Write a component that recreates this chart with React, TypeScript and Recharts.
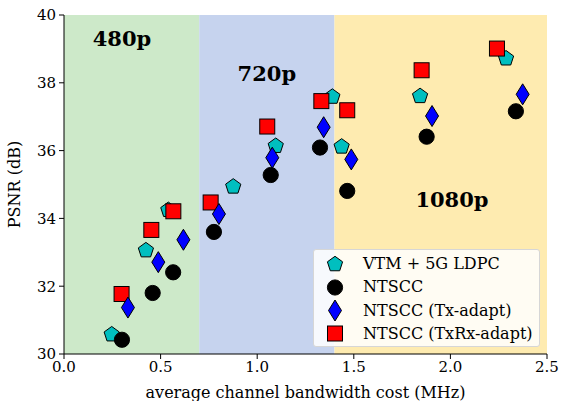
import React from "react";
import {
  ScatterChart, Scatter, XAxis, YAxis, ReferenceArea, ReferenceDot,
} from "recharts";

// bandwidth cost (MHz) / PSNR (dB) per scheme
const vtmX = [0.247, 0.424, 0.54, 0.876, 1.096, 1.389, 1.437, 1.843, 2.288];
const vtmY = [30.6, 33.08, 34.27, 34.96, 36.16, 37.61, 36.14, 37.63, 38.74];

const ntsccX = [0.3, 0.459, 0.565, 0.776, 1.07, 1.325, 1.466, 1.877, 2.339];
const ntsccY = [30.42, 31.8, 32.41, 33.6, 35.28, 36.09, 34.81, 36.41, 37.16];

const txX = [0.331, 0.488, 0.618, 0.802, 1.078, 1.344, 1.487, 1.905, 2.374];
const txY = [31.37, 32.71, 33.37, 34.13, 35.79, 36.69, 35.74, 37.02, 37.66];

const txrxX = [0.298, 0.452, 0.566, 0.759, 1.052, 1.332, 1.466, 1.851, 2.241];
const txrxY = [31.77, 33.66, 34.21, 34.47, 36.71, 37.46, 37.19, 38.37, 39.01];

const xTicks = [0, 0.5, 1, 1.5, 2, 2.5];
const yTicks = [30, 32, 34, 36, 38, 40];

const bands = [
  { from: 0, to: 0.7, color: "#cde9c9", label: "480p", lx: 0.3, ly: 39.3 },
  { from: 0.7, to: 1.4, color: "#c6d3ee", label: "720p", lx: 1.05, ly: 38.27 },
  { from: 1.4, to: 2.5, color: "#feebb0", label: "1080p", lx: 2.008, ly: 34.56 },
];

const FONT = "'DejaVu Serif', serif";

const toPoints = (xs: number[], ys: number[]) => xs.map((x, i) => ({ x, y: ys[i] }));

type Kind = "pentagon" | "circle" | "diamond" | "square";

function Marker({ kind, cx, cy, fill }: { kind: Kind; cx: number; cy: number; fill: string }) {
  const common = { fill, stroke: "#000", strokeWidth: 1 };
  if (kind === "circle") return <circle cx={cx} cy={cy} r={7.6} {...common} />;
  if (kind === "square") return <rect x={cx - 7.5} y={cy - 7.5} width={15} height={15} {...common} />;
  if (kind === "diamond") {
    const d = `M${cx},${cy - 10.5} L${cx + 6.5},${cy} L${cx},${cy + 10.5} L${cx - 6.5},${cy} Z`;
    return <path d={d} {...common} />;
  }
  const r = 8;
  const pts = [0, 1, 2, 3, 4].map(k => {
    const a = -Math.PI / 2 + (k * 2 * Math.PI) / 5;
    return `${cx + r * Math.cos(a)},${cy + r * Math.sin(a) + 0.8}`;
  });
  return <polygon points={pts.join(" ")} {...common} />;
}

const series: { name: string; kind: Kind; color: string; data: { x: number; y: number }[] }[] = [
  { name: "VTM + 5G LDPC", kind: "pentagon", color: "#00bfbf", data: toPoints(vtmX, vtmY) },
  { name: "NTSCC", kind: "circle", color: "#000000", data: toPoints(ntsccX, ntsccY) },
  { name: "NTSCC (Tx-adapt)", kind: "diamond", color: "#0000ff", data: toPoints(txX, txY) },
  { name: "NTSCC (TxRx-adapt)", kind: "square", color: "#ff0000", data: toPoints(txrxX, txrxY) },
];

// draw order: squares under diamonds
const drawOrder = [0, 1, 3, 2];

function LegendBox() {
  return (
    <div
      style={{
        position: "absolute",
        left: 313,
        top: 249,
        background: "rgba(255,255,255,0.85)",
        border: "1px solid #d6d6d6",
        borderRadius: 3,
        width: 227,
        height: 98,
        boxSizing: "border-box",
        paddingTop: 2,
        fontFamily: FONT,
        fontSize: 16,
        lineHeight: "23.4px",
        color: "#000",
      }}
    >
      {series.map(s => (
        <div key={s.name} style={{ display: "flex", alignItems: "center", height: 23.4 }}>
          <svg width={49} height={23} style={{ flex: "none" }}>
            <Marker kind={s.kind} cx={21} cy={11.5} fill={s.color} />
          </svg>
          <span style={{ fontFamily: FONT, whiteSpace: "nowrap" }}>{s.name}</span>
        </div>
      ))}
    </div>
  );
}

export default function App() {
  return (
    <div style={{ position: "fixed", left: 0, top: 0, width: 565, height: 401, background: "#fff" }}>
      <ScatterChart
        width={565}
        height={401}
        margin={{ top: 15, right: 18, left: 0, bottom: 0 }}
        style={{ fontFamily: FONT }}
      >
        {bands.map(b => (
          <ReferenceArea
            key={b.label}
            x1={b.from}
            x2={b.to}
            y1={30}
            y2={40}
            fill={b.color}
            fillOpacity={1}
            stroke="none"
          />
        ))}
        <XAxis
          type="number"
          dataKey="x"
          domain={[0, 2.5]}
          ticks={xTicks}
          tickFormatter={(v: number) => v.toFixed(1)}
          height={47}
          stroke="#000"
          tick={{ fill: "#000", fontSize: 15, fontFamily: FONT }}
          tickSize={5}
          tickMargin={2}
          allowDataOverflow
          label={{
            value: "average channel bandwidth cost (MHz)",
            position: "insideBottom",
            offset: 3,
            fill: "#000",
            fontSize: 16,
            fontFamily: FONT,
          }}
        />
        <YAxis
          type="number"
          dataKey="y"
          domain={[30, 40]}
          ticks={yTicks}
          width={64}
          stroke="#000"
          tick={{ fill: "#000", fontSize: 15, fontFamily: FONT }}
          tickSize={5}
          tickMargin={3}
          allowDataOverflow
          label={{
            value: "PSNR (dB)",
            angle: -90,
            position: "insideLeft",
            offset: 14,
            fill: "#000",
            fontSize: 16,
            fontFamily: FONT,
            style: { textAnchor: "middle" },
          }}
        />
        {bands.map(b => (
          <ReferenceDot
            key={"t" + b.label}
            x={b.lx}
            y={b.ly}
            r={0}
            stroke="none"
            fill="none"
            label={{
              value: b.label,
              position: "center",
              fill: "#000",
              fontSize: 21,
              fontWeight: "bold",
              fontFamily: FONT,
            }}
          />
        ))}
        {drawOrder.map(i => {
          const s = series[i];
          return (
            <Scatter
              key={s.name}
              name={s.name}
              data={s.data}
              isAnimationActive={false}
              shape={(p: any) => <Marker kind={s.kind} cx={p.cx} cy={p.cy} fill={s.color} />}
            />
          );
        })}
      </ScatterChart>
      <LegendBox />
    </div>
  );
}
